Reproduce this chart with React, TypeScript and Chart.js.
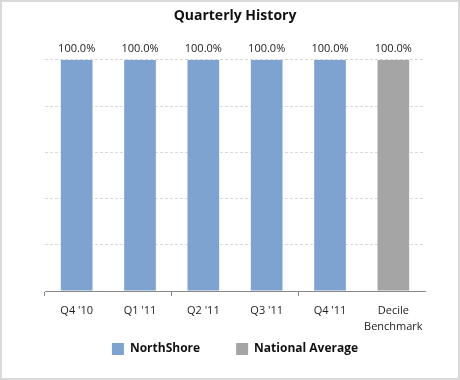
import React, { useEffect, useRef } from "react";
import { Chart, registerables } from "chart.js";

Chart.register(...registerables);

const categories: (string | string[])[] = ["Q4 '10", "Q1 '11", "Q2 '11", "Q3 '11", "Q4 '11", ["Decile", "Benchmark"]];
const northShore: (number | null)[] = [100, 100, 100, 100, 100, null];
const nationalAverage: (number | null)[] = [null, null, null, null, null, 100];
const seriesNames = ["NorthShore", "National Average"];

const FONT = "'Open Sans', 'DejaVu Sans', sans-serif";

const valueLabels = {
  id: "valueLabels",
  afterDatasetsDraw(chart: any) {
    const ctx = chart.ctx;
    ctx.save();
    ctx.font = `11px ${FONT}`;
    ctx.fillStyle = "#222";
    ctx.textAlign = "center";
    ctx.textBaseline = "bottom";
    chart.data.datasets.forEach((ds: any, di: number) => {
      const meta = chart.getDatasetMeta(di);
      meta.data.forEach((el: any, i: number) => {
        const v = ds.data[i];
        if (v == null) return;
        ctx.fillText(v.toFixed(1) + "%", el.x, el.y - 5);
      });
    });
    ctx.restore();
  },
};

// pull the legend up closer to the axis labels (legend padding also sets the item spacing)
const legendShift = {
  id: "legendShift",
  afterLayout(chart: any) {
    const lg = chart.legend;
    if (lg) {
      lg.top -= 35;
      lg.bottom -= 35;
    }
  },
};

export default function App() {
  const ref = useRef<HTMLCanvasElement>(null);
  useEffect(() => {
    const chart = new Chart(ref.current!, {
      type: "bar",
      data: {
        labels: categories,
        datasets: [
          { label: seriesNames[0], data: northShore, backgroundColor: "#7EA3D0", barPercentage: 0.5, categoryPercentage: 1 },
          { label: seriesNames[1], data: nationalAverage, backgroundColor: "#A5A5A5", barPercentage: 0.5, categoryPercentage: 1 },
        ],
      },
      options: {
        animation: false,
        responsive: false,
        layout: { padding: { left: 43, right: 33, top: 0, bottom: -22 } },
        plugins: {
          title: {
            display: true,
            text: "Quarterly History",
            color: "#111",
            font: { family: FONT, size: 14, weight: "bold" },
            padding: { top: 6, bottom: 35 },
          },
          legend: {
            position: "bottom",
            labels: {
              boxWidth: 12,
              boxHeight: 12,
              padding: 36,
              color: "#111",
              font: { family: FONT, size: 12, weight: "bold" },
            },
          },
          tooltip: { enabled: false },
        },
        scales: {
          x: {
            stacked: true,
            grid: {
              offset: true,
              drawOnChartArea: false,
              drawTicks: true,
              tickLength: 5,
              color: (c: any) => (c.index % 2 === 0 ? "#888" : "rgba(0,0,0,0)"),
            },
            border: { display: true, color: "#888" },
            ticks: { color: "#222", font: { family: FONT, size: 11, lineHeight: 1.45 }, padding: 7, maxRotation: 0, autoSkip: false },
          },
          y: {
            stacked: true,
            min: 0,
            max: 100,
            ticks: { display: false, stepSize: 20 },
            grid: { color: "#d9d9d9", drawTicks: false },
            border: { display: false, dash: [3, 2] },
          },
        },
      },
      plugins: [valueLabels, legendShift],
    } as any);
    return () => chart.destroy();
  }, []);
  return (
    <div style={{ position: "absolute", left: 0, top: 0, width: 460, height: 380, boxSizing: "border-box", border: "2px solid #d9d9d9", background: "#fff" }}>
      <canvas ref={ref} width={456} height={376} style={{ display: "block" }} />
    </div>
  );
}
